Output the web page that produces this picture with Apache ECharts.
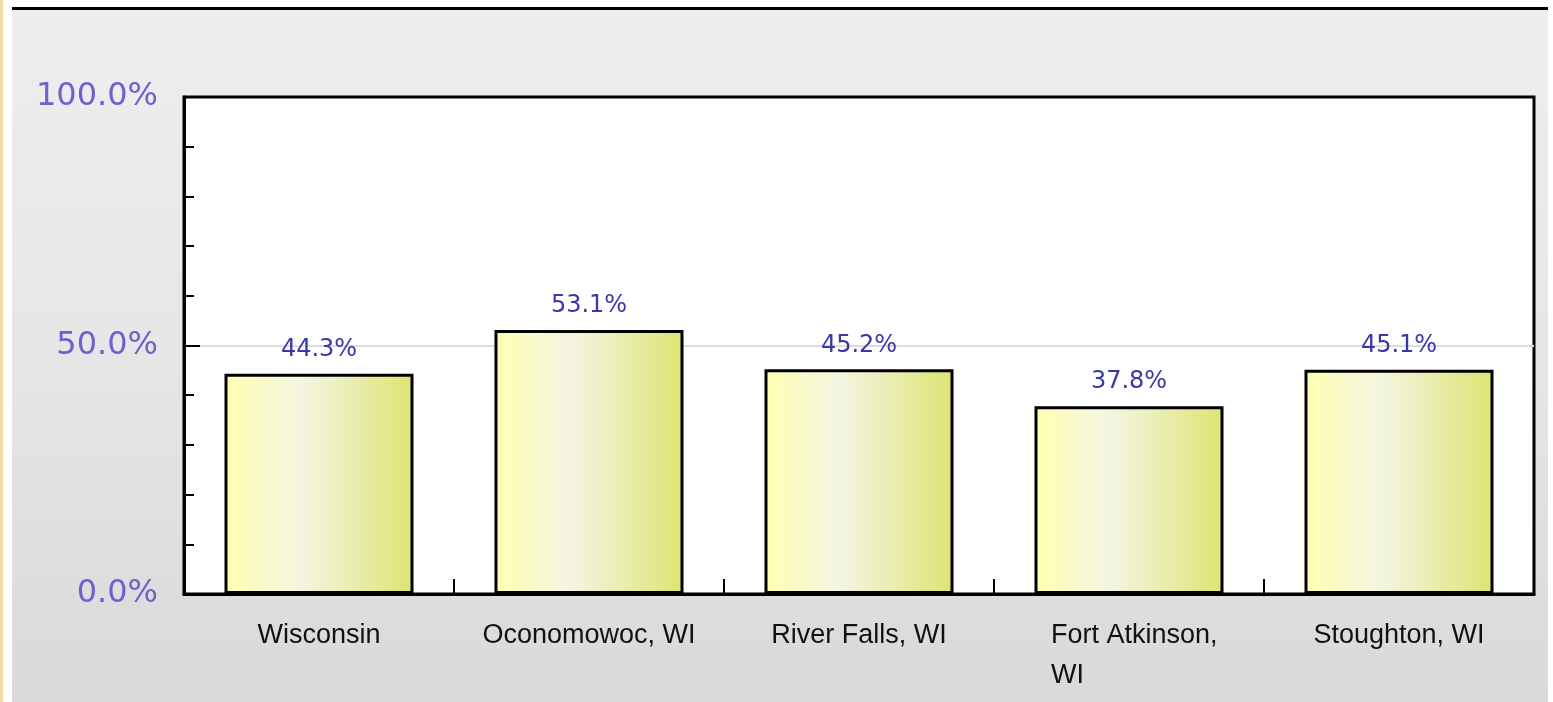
<!DOCTYPE html>
<html>
<head>
<meta charset="utf-8">
<script src="https://cdn.jsdelivr.net/npm/echarts@6/dist/echarts.min.js"></script>
<style>
  html, body { margin: 0; padding: 0; background: #fff; width: 1553px; height: 702px; overflow: hidden; }
  #strip { position: absolute; left: 0; top: 0; width: 3px; height: 702px; background: #f3dca8; }
  #chart {
    position: absolute; left: 12px; top: 7px; width: 1536px; height: 692px;
    border-top: 3px solid #000;
    background: linear-gradient(to bottom, #eeeeee 0%, #e6e6e6 50%, #d9d9d9 100%);
  }
</style>
</head>
<body>
<div id="strip"></div>
<div id="chart"></div>
<script>
const categories = ['Wisconsin', 'Oconomowoc, WI', 'River Falls, WI', 'Fort Atkinson,\nWI', 'Stoughton, WI']
const values = [44.3, 53.1, 45.2, 37.8, 45.1]

const chart = echarts.init(document.getElementById('chart'))

chart.setOption({
  animation: false,
  grid: {
    left: 172,
    right: 14,
    top: 87,
    bottom: 108,
    show: true,
    backgroundColor: '#fff',
    borderColor: '#000',
    borderWidth: 3
  },
  xAxis: {
    type: 'category',
    data: categories,
    axisLine: { lineStyle: { color: '#000', width: 3 } },
    axisTick: {
      show: true,
      inside: true,
      interval: 0,
      length: 15,
      lineStyle: { color: '#000', width: 2 }
    },
    axisLabel: {
      interval: 0,
      margin: 22,
      color: '#111',
      fontFamily: 'Liberation Sans, Arial, sans-serif',
      fontSize: 27,
      lineHeight: 40,
      formatter: (v) => {
        // wrapped label keeps its second line left aligned
        if (v.indexOf('\n') >= 0) {
          return v.split('\n').map(s => '{w|' + s + '}').join('\n')
        }
        return v
      },
      rich: {
        w: { width: 156, align: 'left', fontSize: 27, lineHeight: 40, color: '#111' }
      }
    }
  },
  yAxis: {
    type: 'value',
    min: 0,
    max: 100,
    interval: 50,
    axisLine: { show: true, lineStyle: { color: '#000', width: 3 } },
    axisTick: {
      show: true,
      inside: true,
      length: 16,
      lineStyle: { color: '#000', width: 2 }
    },
    minorTick: {
      show: true,
      splitNumber: 5,
      length: 10,
      lineStyle: { color: '#000', width: 2 }
    },
    splitLine: {
      showMinLine: false,
      showMaxLine: false,
      lineStyle: { color: '#dddddd', width: 2 }
    },
    axisLabel: {
      margin: 26,
      color: '#6f5fd0',
      fontFamily: 'DejaVu Sans, Verdana, sans-serif',
      fontSize: 32,
      padding: [10, 0, 0, 0],
      formatter: (v) => v.toFixed(1) + '%'
    }
  },
  series: [
    {
      type: 'bar',
      data: values,
      barWidth: '70%',
      itemStyle: {
        borderColor: '#000',
        borderWidth: 3,
        color: new echarts.graphic.LinearGradient(0, 0, 1, 0, [
          { offset: 0, color: '#ffffb2' },
          { offset: 0.4, color: '#f4f5e2' },
          { offset: 1, color: '#dde472' }
        ])
      },
      label: {
        show: true,
        position: 'top',
        distance: 12,
        color: '#3a38a8',
        fontFamily: 'DejaVu Sans, Verdana, sans-serif',
        fontSize: 24,
        formatter: (p) => p.value.toFixed(1) + '%'
      }
    }
  ]
})
</script>
</body>
</html>
